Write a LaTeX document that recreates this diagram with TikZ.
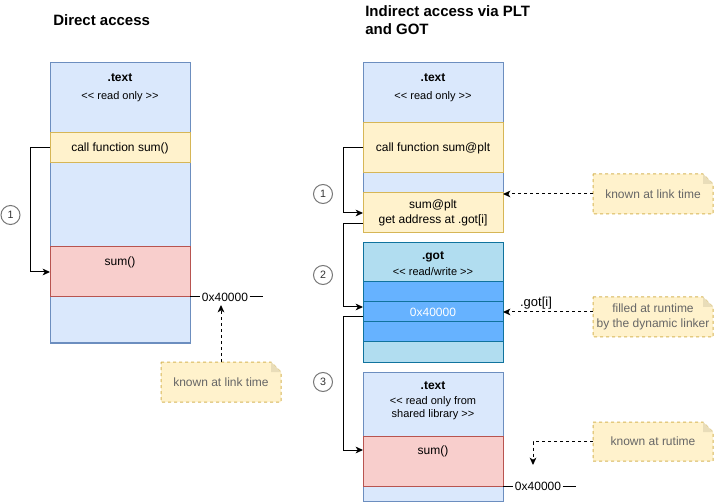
\documentclass[tikz,border=0pt]{standalone}
\usepackage{fontspec}
\setmainfont{Liberation Sans}
\usetikzlibrary{calc,arrows.meta,backgrounds}
\definecolor{bfill}{HTML}{DAE8FC}\definecolor{bdraw}{HTML}{6C8EBF}
\definecolor{yfill}{HTML}{FFF2CC}\definecolor{ydraw}{HTML}{D6B656}
\definecolor{rfill}{HTML}{F8CECC}\definecolor{rdraw}{HTML}{B85450}
\definecolor{gfill}{HTML}{B1DDF0}\definecolor{gdraw}{HTML}{10739E}
\definecolor{rowfill}{HTML}{66B2FF}
\definecolor{notetext}{HTML}{666666}
\definecolor{foldcol}{HTML}{E9DDB9}
\definecolor{circdraw}{HTML}{777777}
\definecolor{circtext}{HTML}{333333}
\newcommand\lql{<\kern0pt<}
\newcommand\rqr{>\kern0pt>}
\newcommand\notebg[1]{%
  \begin{pgfonlayer}{background}
  \filldraw[notebord] (#1.north west) -- ($(#1.north east)+(-10,0)$) -- ($(#1.north east)+(0,10)$) -- (#1.south east) -- (#1.south west) -- cycle;
  \fill[foldcol] ($(#1.north east)+(-10,0)$) -- ($(#1.north east)+(-10,10)$) -- ($(#1.north east)+(0,10)$) -- cycle;
  \end{pgfonlayer}}
\begin{document}
\begin{tikzpicture}[x=0.75pt,y=-0.75pt,
  blk/.style={draw, inner sep=0pt, outer sep=0pt, anchor=north west, line width=0.75pt, font=\fontsize{9}{11}\selectfont, align=center},
  sz/.style 2 args={minimum width=#1*0.75pt, minimum height=#2*0.75pt},
  bluebox/.style={blk, draw=bdraw, fill=bfill},
  yelbox/.style={blk, draw=ydraw, fill=yfill},
  redbox/.style={blk, draw=rdraw, fill=rfill},
  gotbox/.style={blk, draw=gdraw, fill=gfill},
  rowbox/.style={blk, draw=gdraw, fill=rowfill, text=white},
  txt/.style={inner sep=0pt, font=\fontsize{9}{11}\selectfont, align=center},
  smalltxt/.style={inner sep=0pt, font=\fontsize{8.25}{10}\selectfont, align=center},
  boldtxt/.style={inner sep=0pt, font=\fontsize{9}{11}\selectfont\bfseries},
  title/.style={inner sep=0pt, anchor=west, font=\fontsize{11.25}{13.5}\selectfont\bfseries, align=left},
  num/.style={circle, draw=circdraw, fill=white, minimum size=19*0.75pt, inner sep=0pt, line width=0.75pt, text=circtext, font=\fontsize{8}{10}\selectfont},
  note/.style={inner sep=0pt, outer sep=0pt, anchor=north west, text=notetext, align=center, font=\fontsize{9}{11}\selectfont},
  notebord/.style={draw=ydraw, fill=yfill, line width=0.75pt, dash pattern=on 2.25pt off 2.25pt},
  conn/.style={line width=0.75pt, -{Stealth[length=5.5pt,width=5pt,inset=1.5pt]}},
  dconn/.style={conn, dash pattern=on 2.25pt off 2.25pt},
  plain/.style={line width=0.75pt}]
\useasboundingbox (0,0) rectangle (714,502);

% ---------- titles
\node[title] (t1) at (53,20) {Direct access};
\node[title] (t2) at (365,20) {Indirect access via PLT\\and GOT};

% ---------- left column
\node[bluebox, sz={140}{280}] (ltext) at (50,63) {};
\node[boldtxt] (ltl) at (120,78) {.text};
\node[smalltxt] (ltr) at (120,97) {\lql{} read only \rqr};
\node[yelbox, sz={140}{30}] (lcall) at (50,133) {call function sum()};
\node[redbox, sz={140}{50}] (lsum) at (50,247) {};
\node[txt] (lsumt) at (120,262) {sum()};
\node[txt, inner sep=1pt] (laddr) at (225,297) {0x40000};
\draw[plain] (lsum.south east) -- (laddr.west);
\coordinate (laddrend) at ($(laddr.east)+(13,0)$);
\draw[plain] (laddr.east) -- (laddrend);

\node[num] (c1l) at (10.5,215) {1};
\draw[conn] (lcall.west) -- ++(-20,0) |- (lsum.west);

\node[note, minimum width=120*0.75pt, minimum height=40*0.75pt] (n1) at (161,362) {known at link time};
\notebg{n1}
\coordinate (n1tip) at (221,305);
\draw[dconn] (n1.north) -- (n1tip);

% ---------- right column: .text of program
\node[bluebox, sz={140}{170}] (rtext) at (363,63) {};
\node[boldtxt] (rtl) at (433,78) {.text};
\node[smalltxt] (rtr) at (433,97) {\lql{} read only \rqr};
\node[yelbox, sz={140}{50}] (rcall) at (363,123) {call function sum@plt};
\node[yelbox, sz={140}{40}] (plt) at (363,193) {sum@plt\\get address at .got[i]};

% ---------- .got
\node[gotbox, sz={140}{119}] (got) at (363,243) {};
\node[gotbox, sz={140}{39}] (gothead) at (363,243) {};
\node[boldtxt] (gotl) at (433,257) {.got};
\node[smalltxt] (gotr) at (433,272) {\lql{} read/write \rqr};
\node[rowbox, sz={140}{20}] (r1) at (363,282) {};
\node[rowbox, sz={140}{20}] (r2) at (363,302) {0x40000};
\node[rowbox, sz={140}{20}] (r3) at (363,322) {};
\node[inner sep=0pt, font=\fontsize{9.75}{11}\selectfont] (gotidx) at (536,303) {.got[i]};

% ---------- shared library .text
\node[bluebox, sz={140}{129}] (stext) at (363,372) {};
\node[boldtxt] (stl) at (433,386) {.text};
\node[smalltxt] (str) at (433,408) {\lql{} read only from\\shared library \rqr};
\node[redbox, sz={140}{50}] (rsum) at (363,436) {};
\node[txt] (rsumt) at (433,451) {sum()};
\node[txt, inner sep=1pt] (raddr) at (538,486) {0x40000};
\draw[plain] (rsum.south east) -- (raddr.west);
\coordinate (raddrend) at ($(raddr.east)+(13,0)$);
\draw[plain] (raddr.east) -- (raddrend);

% ---------- numbered connectors
\node[num] (c1r) at (323,194) {1};
\node[num] (c2r) at (323,275) {2};
\node[num] (c3r) at (323,382) {3};
\coordinate (pltout) at ($(plt.west)+(0,11)$);
\coordinate (r2in) at ($(r2.west)+(0,-5)$);
\coordinate (r2out) at ($(r2.west)+(0,5)$);
\coordinate (rsumin) at ($(rsum.west)+(0,-11)$);
\draw[conn] (rcall.west) -- ++(-20,0) |- (plt.west);
\draw[conn] (pltout) -- ++(-20,0) |- (r2in);
\draw[conn] (r2out) -- ++(-20,0) |- (rsumin);

% ---------- notes on the right
\node[note, minimum width=120*0.75pt, minimum height=40*0.75pt] (n2) at (593,174) {known at link time};
\notebg{n2}
\draw[dconn] (n2.west) -- (n2.west -| plt.east);

\node[note, minimum width=120*0.75pt, minimum height=40*0.75pt] (n3) at (593,297) {filled at runtime\\by the dynamic linker};
\notebg{n3}
\draw[dconn] (r2.east -| n3.west) -- (r2.east);

\node[note, minimum width=120*0.75pt, minimum height=39*0.75pt] (n4) at (593,422) {known at rutime};
\notebg{n4}
\coordinate (n4tip) at (533,465);
\draw[dconn] (n4.west) -| (n4tip);
\end{tikzpicture}
\end{document}
